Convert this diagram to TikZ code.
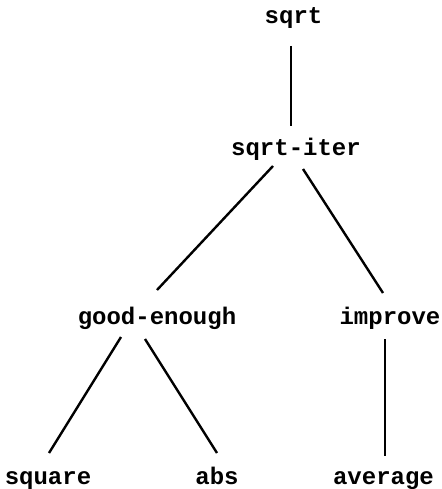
\documentclass[tikz,border=0pt]{standalone}
\usepackage{fontspec}
\setmonofont{Liberation Mono}
\usetikzlibrary{calc}
\tikzset{
  lbl/.style={font=\ttfamily\bfseries\fontsize{24}{24}\selectfont, inner sep=0pt, anchor=base},
  vedge/.style={line width=1.3pt},
  dedge/.style={line width=2.4pt}
}
\begin{document}
\begin{tikzpicture}[x=1pt,y=-1pt]
\useasboundingbox[fill=white] (0,0) rectangle (441,489);
\node[lbl] (sqrt)   at (293.5,24)  {sqrt};
\node[lbl] (iter)   at (296,155.5) {sqrt-iter};
\node[lbl] (good)   at (157,324.5) {good-enough};
\node[lbl] (impr)   at (390,324.5) {improve};
\node[lbl] (square) at (48,484)    {square};
\node[lbl] (abs)    at (217,484)   {abs};
\node[lbl] (avg)    at (383.5,484) {average};
\draw[vedge] ($(sqrt.base)+(-2.5,22)$) -- ($(iter.base)+(-5,-29.5)$);
\draw[dedge] ($(iter.base)+(-23,10.5)$) -- ($(good.base)+(0,-34.5)$);
\draw[dedge] ($(iter.base)+(7,13.5)$) -- ($(impr.base)+(-7,-31.5)$);
\draw[dedge] ($(good.base)+(-36,12.5)$) -- ($(square.base)+(1,-31)$);
\draw[dedge] ($(good.base)+(-12,14.5)$) -- ($(abs.base)+(0,-31)$);
\draw[vedge] ($(impr.base)+(-5,14.5)$) -- ($(avg.base)+(1.5,-28)$);
\end{tikzpicture}
\end{document}
